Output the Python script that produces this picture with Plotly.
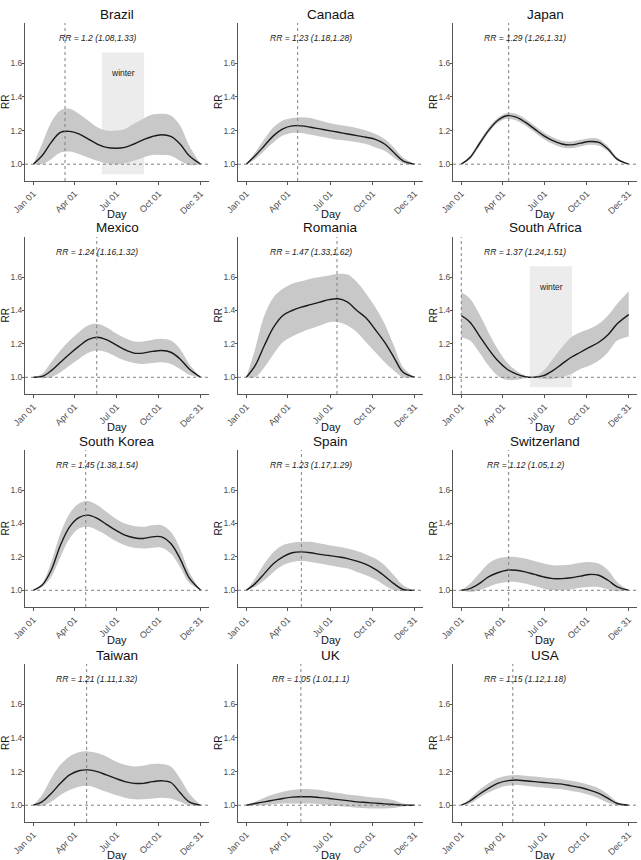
import plotly.graph_objects as go

W, H = 641, 860

days = [1, 20, 40, 60, 80, 100, 120, 140, 160, 180, 200, 220, 240, 260, 280, 300, 320, 340, 365]

countries = ["Brazil", "Canada", "Japan", "Mexico", "Romania", "South Africa",
             "South Korea", "Spain", "Switzerland", "Taiwan", "UK", "USA"]

rr_text = ["1.2 (1.08,1.33)", "1.23 (1.18,1.28)", "1.29 (1.26,1.31)",
           "1.24 (1.16,1.32)", "1.47 (1.33,1.62)", "1.37 (1.24,1.51)",
           "1.45 (1.38,1.54)", "1.23 (1.17,1.29)", "1.12 (1.05,1.2)",
           "1.21 (1.11,1.32)", "1.05 (1.01,1.1)", "1.15 (1.12,1.18)"]

peak_day = [70, 112, 104, 139, 197, 1, 115, 120, 104, 117, 119, 113]

has_winter = [True, False, False, False, False, True, False, False, False, False, False, False]
winter_start, winter_end = 150, 242

mean_brazil = [1.0, 1.05, 1.13, 1.19, 1.195, 1.18, 1.15, 1.12, 1.10, 1.095, 1.10, 1.12, 1.145, 1.165, 1.175, 1.165, 1.12, 1.05, 1.0]
upper_brazil = [1.0, 1.12, 1.25, 1.32, 1.33, 1.30, 1.26, 1.22, 1.20, 1.20, 1.21, 1.24, 1.27, 1.295, 1.30, 1.29, 1.23, 1.11, 1.0]
lower_brazil = [1.0, 1.0, 1.03, 1.07, 1.075, 1.06, 1.04, 1.02, 1.005, 1.0, 1.005, 1.02, 1.04, 1.055, 1.055, 1.05, 1.02, 0.995, 1.0]

mean_canada = [1.0, 1.05, 1.11, 1.17, 1.21, 1.228, 1.228, 1.22, 1.21, 1.20, 1.19, 1.18, 1.17, 1.16, 1.148, 1.12, 1.07, 1.02, 1.0]
upper_canada = [1.0, 1.07, 1.15, 1.22, 1.26, 1.275, 1.28, 1.275, 1.26, 1.245, 1.235, 1.225, 1.215, 1.20, 1.18, 1.15, 1.10, 1.04, 1.0]
lower_canada = [1.0, 1.03, 1.08, 1.13, 1.17, 1.185, 1.185, 1.175, 1.165, 1.155, 1.145, 1.14, 1.13, 1.12, 1.10, 1.08, 1.04, 1.005, 1.0]

mean_japan = [1.0, 1.04, 1.12, 1.20, 1.26, 1.288, 1.28, 1.25, 1.21, 1.17, 1.14, 1.12, 1.115, 1.125, 1.135, 1.13, 1.09, 1.03, 1.0]
upper_japan = [1.0, 1.05, 1.135, 1.215, 1.275, 1.305, 1.30, 1.27, 1.23, 1.19, 1.16, 1.14, 1.135, 1.145, 1.155, 1.15, 1.105, 1.04, 1.0]
lower_japan = [1.0, 1.03, 1.105, 1.185, 1.245, 1.27, 1.26, 1.23, 1.19, 1.15, 1.12, 1.10, 1.095, 1.105, 1.115, 1.11, 1.075, 1.02, 1.0]

mean_mexico = [1.0, 1.005, 1.04, 1.09, 1.14, 1.185, 1.225, 1.24, 1.225, 1.195, 1.165, 1.145, 1.145, 1.155, 1.16, 1.15, 1.11, 1.05, 1.0]
upper_mexico = [1.0, 1.02, 1.09, 1.16, 1.22, 1.27, 1.31, 1.32, 1.30, 1.265, 1.235, 1.215, 1.215, 1.225, 1.23, 1.22, 1.17, 1.08, 1.0]
lower_mexico = [1.0, 0.995, 1.0, 1.03, 1.07, 1.11, 1.145, 1.16, 1.15, 1.125, 1.10, 1.085, 1.08, 1.085, 1.09, 1.08, 1.05, 1.015, 1.0]

mean_romania = [1.0, 1.07, 1.19, 1.30, 1.37, 1.40, 1.42, 1.435, 1.45, 1.465, 1.47, 1.45, 1.40, 1.355, 1.285, 1.21, 1.12, 1.03, 1.0]
upper_romania = [1.0, 1.17, 1.37, 1.48, 1.53, 1.56, 1.575, 1.59, 1.60, 1.61, 1.62, 1.615, 1.57, 1.50, 1.42, 1.32, 1.19, 1.06, 1.0]
lower_romania = [1.0, 1.0, 1.06, 1.14, 1.21, 1.245, 1.27, 1.29, 1.31, 1.33, 1.33, 1.31, 1.27, 1.21, 1.15, 1.09, 1.04, 1.0, 1.0]

mean_safrica = [1.37, 1.33, 1.25, 1.17, 1.10, 1.05, 1.02, 1.003, 1.0, 1.01, 1.04, 1.08, 1.12, 1.15, 1.18, 1.21, 1.255, 1.32, 1.375]
upper_safrica = [1.51, 1.47, 1.38, 1.27, 1.17, 1.09, 1.04, 1.01, 1.003, 1.04, 1.11, 1.18, 1.24, 1.27, 1.29, 1.32, 1.37, 1.44, 1.515]
lower_safrica = [1.24, 1.22, 1.15, 1.07, 1.01, 0.985, 0.985, 0.995, 0.998, 0.99, 0.99, 1.0, 1.02, 1.05, 1.07, 1.10, 1.15, 1.22, 1.245]

mean_skorea = [1.0, 1.03, 1.12, 1.27, 1.38, 1.435, 1.45, 1.43, 1.395, 1.36, 1.33, 1.315, 1.31, 1.32, 1.32, 1.28, 1.19, 1.075, 1.0]
upper_skorea = [1.0, 1.04, 1.17, 1.34, 1.46, 1.52, 1.535, 1.51, 1.47, 1.43, 1.40, 1.385, 1.38, 1.39, 1.39, 1.35, 1.25, 1.11, 1.0]
lower_skorea = [1.0, 1.02, 1.08, 1.20, 1.31, 1.37, 1.38, 1.36, 1.33, 1.295, 1.27, 1.255, 1.25, 1.255, 1.255, 1.22, 1.14, 1.045, 1.0]

mean_spain = [1.0, 1.04, 1.10, 1.16, 1.20, 1.225, 1.23, 1.225, 1.215, 1.208, 1.20, 1.19, 1.175, 1.155, 1.125, 1.085, 1.04, 1.005, 1.0]
upper_spain = [1.0, 1.07, 1.16, 1.23, 1.27, 1.285, 1.29, 1.29, 1.28, 1.27, 1.26, 1.25, 1.235, 1.215, 1.19, 1.15, 1.09, 1.03, 1.0]
lower_spain = [1.0, 1.02, 1.06, 1.11, 1.15, 1.17, 1.175, 1.17, 1.16, 1.15, 1.14, 1.13, 1.11, 1.09, 1.065, 1.03, 1.0, 0.995, 1.0]

mean_swiss = [1.0, 1.01, 1.04, 1.08, 1.105, 1.12, 1.12, 1.11, 1.095, 1.08, 1.07, 1.07, 1.075, 1.085, 1.095, 1.09, 1.06, 1.02, 1.0]
upper_swiss = [1.0, 1.04, 1.10, 1.16, 1.19, 1.20, 1.20, 1.19, 1.175, 1.16, 1.15, 1.15, 1.155, 1.165, 1.17, 1.16, 1.12, 1.05, 1.0]
lower_swiss = [1.0, 0.99, 1.0, 1.02, 1.04, 1.05, 1.05, 1.04, 1.025, 1.01, 1.0, 1.0, 1.005, 1.015, 1.02, 1.02, 1.005, 0.995, 1.0]

mean_taiwan = [1.0, 1.02, 1.07, 1.13, 1.18, 1.205, 1.21, 1.20, 1.18, 1.16, 1.14, 1.13, 1.13, 1.14, 1.145, 1.135, 1.075, 1.02, 1.0]
upper_taiwan = [1.0, 1.06, 1.16, 1.24, 1.29, 1.315, 1.32, 1.31, 1.29, 1.26, 1.24, 1.23, 1.235, 1.245, 1.245, 1.23, 1.16, 1.07, 1.0]
lower_taiwan = [1.0, 0.995, 1.02, 1.06, 1.09, 1.11, 1.115, 1.10, 1.08, 1.06, 1.045, 1.035, 1.035, 1.04, 1.045, 1.04, 1.02, 1.0, 1.0]

mean_uk = [1.0, 1.01, 1.02, 1.03, 1.04, 1.048, 1.05, 1.05, 1.045, 1.04, 1.033, 1.027, 1.02, 1.016, 1.012, 1.008, 1.004, 1.0, 1.0]
upper_uk = [1.0, 1.02, 1.045, 1.065, 1.08, 1.09, 1.095, 1.095, 1.09, 1.08, 1.072, 1.064, 1.057, 1.05, 1.045, 1.04, 1.03, 1.01, 1.0]
lower_uk = [1.0, 1.0, 1.0, 1.005, 1.01, 1.01, 1.01, 1.01, 1.005, 1.0, 0.995, 0.99, 0.985, 0.982, 0.98, 0.98, 0.983, 0.992, 1.0]

mean_usa = [1.0, 1.025, 1.065, 1.10, 1.13, 1.145, 1.15, 1.145, 1.14, 1.135, 1.13, 1.125, 1.115, 1.105, 1.09, 1.07, 1.04, 1.01, 1.0]
upper_usa = [1.0, 1.04, 1.09, 1.13, 1.16, 1.175, 1.18, 1.175, 1.17, 1.165, 1.16, 1.155, 1.145, 1.135, 1.12, 1.10, 1.065, 1.02, 1.0]
lower_usa = [1.0, 1.01, 1.045, 1.075, 1.10, 1.115, 1.12, 1.115, 1.11, 1.105, 1.10, 1.095, 1.085, 1.075, 1.06, 1.04, 1.015, 1.0, 1.0]

means = [mean_brazil, mean_canada, mean_japan, mean_mexico, mean_romania, mean_safrica,
         mean_skorea, mean_spain, mean_swiss, mean_taiwan, mean_uk, mean_usa]
uppers = [upper_brazil, upper_canada, upper_japan, upper_mexico, upper_romania, upper_safrica,
          upper_skorea, upper_spain, upper_swiss, upper_taiwan, upper_uk, upper_usa]
lowers = [lower_brazil, lower_canada, lower_japan, lower_mexico, lower_romania, lower_safrica,
          lower_skorea, lower_spain, lower_swiss, lower_taiwan, lower_uk, lower_usa]

tick_days = [1, 91, 182, 274, 365]
tick_labels = ["Jan 01", "Apr 01", "Jul 01", "Oct 01", "Dec 31"]
y_ticks = [1.0, 1.2, 1.4, 1.6]

# layout geometry (pixels)
col_px = [(25, 209), (238, 423), (453, 637)]
row_px = [(23, 181), (237, 394), (450, 607), (664, 822)]
XR = [-17, 383]
YR = [0.9, 1.84]

FONT = "Liberation Sans, Arial, sans-serif"
BAND = "#c8c8c8"
WINTER = "#ececec"
AXC = "#555555"

fig = go.Figure()
annotations = []
shapes = []
layout_axes = {}

for i, name in enumerate(countries):
    r, c = divmod(i, 3)
    n = i + 1
    xa = "x" if n == 1 else f"x{n}"
    ya = "y" if n == 1 else f"y{n}"
    xk = "xaxis" if n == 1 else f"xaxis{n}"
    yk = "yaxis" if n == 1 else f"yaxis{n}"
    x0, x1 = col_px[c]
    t, b = row_px[r]
    xd = [x0 / W, x1 / W]
    yd = [1 - b / H, 1 - t / H]

    layout_axes[xk] = dict(
        domain=xd, anchor=ya, range=XR, tickmode="array", tickvals=tick_days,
        ticktext=tick_labels, tickangle=-45, showgrid=False, zeroline=False,
        showline=True, linecolor=AXC, linewidth=1, ticks="outside", ticklen=3,
        tickcolor=AXC, tickfont=dict(family=FONT, size=9, color="#4d4d4d"),
        automargin=False, fixedrange=True,
    )
    layout_axes[yk] = dict(
        domain=yd, anchor=xa, range=YR, tickmode="array", tickvals=y_ticks,
        tickformat=".1f", showgrid=False, zeroline=False, showline=True,
        linecolor=AXC, linewidth=1, ticks="outside", ticklen=2, tickcolor=AXC,
        tickfont=dict(family=FONT, size=8.5, color="#4d4d4d"),
        ticklabelstandoff=-2,
        automargin=False, fixedrange=True,
    )

    if has_winter[i]:
        shapes.append(dict(type="rect", xref=xa, yref=ya, x0=winter_start, x1=winter_end,
                           y0=0.94, y1=1.665, fillcolor=WINTER, line=dict(width=0),
                           layer="below"))
        annotations.append(dict(xref=xa, yref=ya, x=(winter_start + winter_end) / 2, y=1.54,
                                text="winter", showarrow=False,
                                font=dict(family=FONT, size=8.5, color="#222")))

    fig.add_trace(go.Scatter(x=days, y=uppers[i], xaxis=xa, yaxis=ya, mode="lines",
                             line=dict(width=0, shape="spline", smoothing=1.0),
                             hoverinfo="skip", showlegend=False))
    fig.add_trace(go.Scatter(x=days, y=lowers[i], xaxis=xa, yaxis=ya, mode="lines",
                             line=dict(width=0, shape="spline", smoothing=1.0),
                             fill="tonexty", fillcolor=BAND,
                             hoverinfo="skip", showlegend=False))
    fig.add_trace(go.Scatter(x=days, y=means[i], xaxis=xa, yaxis=ya, mode="lines",
                             line=dict(width=1.4, color="#1a1a1a", shape="spline", smoothing=1.0),
                             showlegend=False))

    # reference lines
    shapes.append(dict(type="line", xref=xa, yref=ya, x0=XR[0], x1=XR[1], y0=1.0, y1=1.0,
                       line=dict(color="#808080", width=1, dash="dot"), layer="above"))
    shapes.append(dict(type="line", xref=xa, yref=ya, x0=peak_day[i], x1=peak_day[i],
                       y0=YR[0], y1=YR[1],
                       line=dict(color="#808080", width=1, dash="dot"), layer="above"))

    # RR annotation
    annotations.append(dict(xref=xa, yref=ya, x=140, y=1.75,
                            text=f"<i>RR = {rr_text[i]}</i>", showarrow=False,
                            font=dict(family=FONT, size=8.5, color="#222")))
    # panel title
    annotations.append(dict(xref="paper", yref="paper", x=(x0 + x1) / 2 / W,
                            y=1 - (t - 9) / H, text=name, showarrow=False,
                            yanchor="middle", xanchor="center",
                            font=dict(family=FONT, size=13.5, color="#111")))
    # axis titles
    annotations.append(dict(xref="paper", yref="paper", x=(x0 + x1) / 2 / W,
                            y=1 - (b + 33) / H, text="Day", showarrow=False,
                            yanchor="middle", xanchor="center",
                            font=dict(family=FONT, size=11, color="#111")))
    annotations.append(dict(xref="paper", yref="paper", x=(x0 - 20) / W,
                            y=1 - (t + b) / 2 / H, text="RR", showarrow=False,
                            textangle=-90, yanchor="middle", xanchor="center",
                            font=dict(family=FONT, size=10, color="#111")))

fig.update_layout(
    width=W, height=H, margin=dict(l=0, r=0, t=0, b=0, autoexpand=False),
    paper_bgcolor="white", plot_bgcolor="white",
    annotations=annotations, shapes=shapes, **layout_axes,
)

fig.write_html("out.html")
